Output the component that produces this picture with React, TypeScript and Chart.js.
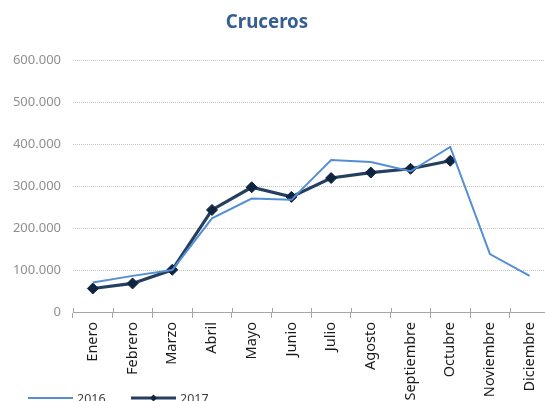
import React, { useEffect, useRef } from "react";
import { Chart, registerables } from "chart.js";

Chart.register(...registerables);

const months = ["Enero", "Febrero", "Marzo", "Abril", "Mayo", "Junio", "Julio", "Agosto", "Septiembre", "Octubre", "Noviembre", "Diciembre"];
const values2016 = [70000, 86000, 100000, 223000, 270000, 267000, 362000, 357000, 335000, 393000, 138000, 86000];
const values2017 = [56000, 68000, 100500, 243000, 297000, 274000, 319000, 332000, 341000, 360000, null, null];
const seriesLabels = ["2016", "2017"];
const yTicks = [0, 100000, 200000, 300000, 400000, 500000, 600000];
const titleText = "Cruceros";

const fmt = (v: number) => (v === 0 ? "0" : Math.round(v / 1000) + ".000");

export default function App() {
  const ref = useRef<HTMLCanvasElement | null>(null);
  useEffect(() => {
    if (!ref.current) return;
    const H = 420;
    const titlePlugin = {
      id: "customTitle",
      afterDraw(chart: any) {
        const ctx = chart.ctx;
        ctx.save();
        ctx.font = "bold 18.7px 'Noto Sans'";
        ctx.fillStyle = "#355F91";
        ctx.textAlign = "center";
        ctx.textBaseline = "middle";
        ctx.fillText(titleText, 267, 23);
        ctx.restore();
      },
    };
    const tickPlugin = {
      id: "tickCross",
      afterDraw(chart: any) {
        const sx = chart.scales.x;
        const ctx = chart.ctx;
        const half = (sx.getPixelForTick(1) - sx.getPixelForTick(0)) / 2;
        const yb = chart.chartArea.bottom;
        ctx.save();
        ctx.strokeStyle = "#A6A6A6";
        ctx.lineWidth = 1;
        for (let i = 0; i <= months.length; i++) {
          const x = Math.round(sx.getPixelForTick(0) - half + i * half * 2) + 0.5;
          ctx.beginPath();
          ctx.moveTo(x, yb - 4);
          ctx.lineTo(x, yb);
          ctx.stroke();
        }
        ctx.restore();
      },
    };
    const legendPlugin = {
      id: "customLegend",
      afterDraw(chart: any) {
        const ctx = chart.ctx;
        const ds = chart.data.datasets;
        const y = 398;
        const items = [
          { x0: 28, x1: 73, tx: 77 },
          { x0: 131, x1: 176, tx: 180 },
        ];
        ctx.save();
        ds.forEach((d: any, i: number) => {
          const it = items[i];
          ctx.strokeStyle = d.borderColor;
          ctx.lineWidth = i === 0 ? 2 : 3;
          ctx.beginPath();
          ctx.moveTo(it.x0, y);
          ctx.lineTo(it.x1, y);
          ctx.stroke();
          if (d.pointRadius > 0) {
            const cx = (it.x0 + it.x1) / 2;
            const r = 3.5;
            ctx.fillStyle = d.pointBackgroundColor;
            ctx.beginPath();
            ctx.moveTo(cx, y - r);
            ctx.lineTo(cx + r, y);
            ctx.lineTo(cx, y + r);
            ctx.lineTo(cx - r, y);
            ctx.closePath();
            ctx.fill();
          }
          ctx.fillStyle = "#404040";
          ctx.font = "12.5px 'Noto Sans'";
          ctx.textAlign = "left";
          ctx.textBaseline = "middle";
          ctx.fillText(d.label, it.tx, y + 1);
        });
        ctx.restore();
      },
    };
    const chart = new Chart(ref.current, {
      type: "line",
      data: {
        labels: months,
        datasets: [
          {
            label: seriesLabels[0],
            data: values2016,
            borderColor: "#558ED5",
            backgroundColor: "#558ED5",
            borderWidth: 2,
            pointRadius: 0,
            tension: 0,
          },
          {
            label: seriesLabels[1],
            data: values2017,
            borderColor: "#243F60",
            backgroundColor: "#0F243E",
            borderWidth: 3.2,
            pointStyle: "rectRot",
            pointRadius: 5.5,
            pointBackgroundColor: "#0F243E",
            pointBorderColor: "#0F243E",
            pointBorderWidth: 1,
            tension: 0,
          },
        ] as any,
      },
      options: {
        responsive: false,
        animation: false,
        devicePixelRatio: 1,
        layout: { padding: { top: 60, left: 0, right: 3, bottom: 0 } },
        plugins: {
          legend: { display: false },
          title: { display: false },
          tooltip: { enabled: false },
        },
        scales: {
          x: {
            offset: true,
            grid: {
              offset: true,
              drawOnChartArea: false,
              drawTicks: true,
              tickLength: 6,
              color: "#A6A6A6",
              lineWidth: 1,
            },
            border: { display: true, color: "#A6A6A6", width: 1 },
            ticks: {
              autoSkip: false,
              maxRotation: 90,
              minRotation: 90,
              padding: 4,
              color: "#1A1A1A",
              font: { family: "'Noto Sans'", size: 14.5 },
            },
            afterFit: (s: any) => {
              s.height = H - 312;
            },
          },
          y: {
            min: 0,
            max: 600000,
            afterBuildTicks: (s: any) => {
              s.ticks = yTicks.map((v) => ({ value: v }));
            },
            ticks: {
              padding: 12,
              color: "#8F8F8F",
              font: { family: "'Noto Sans'", size: 13 },
              callback: (v: any) => fmt(Number(v)),
            },
            grid: { color: "#C4C4C4", lineWidth: 1, drawTicks: false },
            border: { display: false, dash: [1, 1] },
            afterFit: (s: any) => {
              s.width = 73;
            },
          },
        },
      } as any,
      plugins: [titlePlugin, tickPlugin, legendPlugin],
    });
    return () => chart.destroy();
  }, []);
  return (
    <div style={{ position: "fixed", left: 0, top: 0, width: 545, height: 401, overflow: "hidden", background: "#fff" }}>
      <canvas ref={ref} width={556} height={420} style={{ display: "block" }} />
    </div>
  );
}
